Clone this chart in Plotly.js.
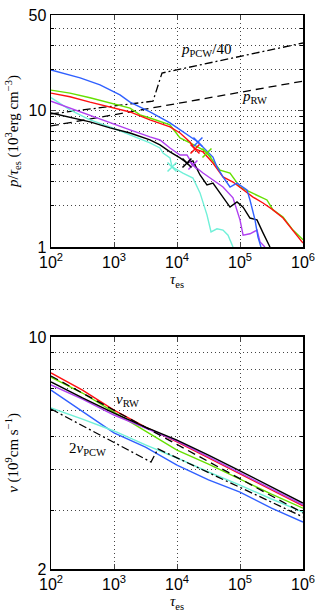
<!DOCTYPE html>
<html>
<head>
<meta charset="utf-8">
<script src="https://cdn.plot.ly/plotly-3.0.1.min.js"></script>
<style>
    html, body { margin: 0; padding: 0; background: #fff; }
    #chart { width: 321px; height: 616px; }
</style>
</head>
<body>
<div id="chart"></div>
<script>
// top panel: p / tau_es
const tauBlueP = [100, 290, 600, 1245, 1795, 3720, 7740, 11170, 16070, 21500, 37200, 43100, 53700, 69400, 89600, 129000, 144000, 173000, 193000, 215000];
const pBlue = [19.8, 17.3, 15.4, 13.0, 11.5, 9.75, 8.1, 7.2, 6.4, 5.88, 4.56, 3.86, 3.26, 2.75, 2.94, 2.62, 2.21, 1.58, 1.18, 1.0];

const tauGreenP = [100, 200, 416, 865, 1795, 2590, 3720, 7740, 11170, 16070, 25900, 29900, 48200, 69400, 100000, 144000, 186000, 268000, 334000, 482000, 693000, 1000000];
const pGreen = [14.1, 13.4, 12.4, 11.3, 10.4, 9.27, 8.81, 7.83, 6.29, 5.78, 5.14, 4.88, 3.66, 3.48, 2.75, 2.53, 2.40, 2.21, 1.87, 1.66, 1.33, 1.13];

const tauRedP = [100, 200, 416, 865, 1795, 3720, 7740, 11170, 16070, 19300, 25900, 37200, 53700, 77400, 112000, 161000, 232000, 334000, 482000, 693000, 1000000];
const pRed = [13.4, 12.6, 11.5, 10.6, 9.75, 8.52, 7.57, 6.84, 5.88, 5.22, 4.97, 4.12, 3.26, 2.99, 2.62, 2.32, 2.10, 1.87, 1.63, 1.33, 1.07];

const tauPurpleP = [100, 200, 416, 865, 1795, 3720, 5370, 7740, 11170, 14400, 17900, 25900, 37200, 53700, 77400, 100000, 112000, 144000, 186000, 208000, 249000];
const pPurple = [11.7, 10.4, 9.12, 8.1, 7.2, 6.4, 6.08, 5.31, 4.72, 4.72, 3.99, 3.48, 3.10, 2.75, 2.29, 1.58, 1.22, 1.25, 1.33, 1.09, 1.0];

const tauCyanP = [100, 200, 416, 865, 1795, 3720, 5370, 6000, 7740, 8340, 12400, 17900, 23200, 29900, 34700, 43100, 53700, 64600, 77400];
const pCyan = [12.4, 10.1, 8.52, 7.57, 6.62, 5.78, 5.31, 4.88, 4.49, 3.86, 3.48, 3.20, 2.49, 1.72, 1.29, 1.36, 1.33, 1.22, 1.0];

const tauBlackP = [100, 200, 416, 865, 1795, 3720, 5370, 7740, 11170, 14400, 17900, 23200, 29900, 37200, 53700, 69400, 89600, 112000, 144000, 186000, 232000, 299000];
const pBlack = [9.59, 8.96, 8.24, 7.45, 6.84, 6.08, 5.59, 4.97, 4.49, 4.12, 4.27, 3.37, 2.85, 2.94, 2.32, 1.96, 2.14, 1.96, 1.63, 1.58, 1.27, 1.0];

// crosses: blue, red, green, purple, black, cyan
const markTau = [21500, 19300, 29900, 17900, 14400, 8340];
const markP = [5.88, 5.22, 4.88, 3.99, 4.12, 3.86];

const tauRW = [100, 1000000];
const pRW = [7.7, 16.4];
const tauPCW = [100, 4160, 5780, 1000000];
const pPCW40 = [9.43, 11.7, 18.8, 31.2];

// bottom panel: v
const tauV = [100, 316, 1000, 3162, 10000, 31620, 100000, 316200, 1000000];
const vRed = [7.79, 6.92, 6.02, 5.35, 4.83, 4.32, 3.86, 3.46, 3.10];
const vGreen = [7.57, 6.78, 5.94, 5.21, 4.56, 4.14, 3.73, 3.36, 3.05];
const vPurple = [7.17, 6.50, 5.82, 5.32, 4.86, 4.35, 3.89, 3.48, 3.12];
const vBlack = [7.32, 6.55, 5.90, 5.35, 4.89, 4.41, 3.95, 3.53, 3.16];
const vBlue = [6.92, 5.98, 5.14, 4.66, 4.11, 3.71, 3.41, 3.05, 2.77];
const vCyan = [6.11, 5.66, 5.21, 4.73, 4.32, 3.92, 3.58, 3.25, 2.97];

const vRW = [7.63, 2.95];
const tauPCWv = [100, 3860, 4990, 1000000];
const v2PCW = [6.07, 4.20, 4.60, 2.87];

// tick values
const xTicks = [100, 1000, 10000, 100000, 1000000];
const xText = ['10<sup>2</sup>', '10<sup>3</sup>', '10<sup>4</sup>', '10<sup>5</sup>', '10<sup>6</sup>'];
const pTicks = [1, 10, 50];
const pMinor = [2, 3, 4, 5, 6, 7, 8, 9, 20, 30, 40];
const vTicks = [2, 10];
const vMinor = [3, 4, 5, 6, 7, 8, 9];

const COLORS = {
    blue: '#3060ff',
    green: '#66e000',
    red: '#ff1010',
    purple: '#b040f0',
    cyan: '#70f0d8',
    black: '#000000'
};
const markColors = [COLORS.blue, COLORS.red, COLORS.green, COLORS.purple, COLORS.black, COLORS.cyan];

const SERIF = 'Liberation Serif, DejaVu Serif, serif';
const SANS = 'Liberation Sans, Arial, sans-serif';
const GRID = { gridcolor: '#444', griddash: '1px,3px', gridwidth: 1 };

function line(x, y, color, axes, dash) {
    return {
        x, y,
        xaxis: axes[0],
        yaxis: axes[1],
        mode: 'lines',
        type: 'scatter',
        line: { color, width: dash ? 1.3 : 1.4, dash: dash || 'solid' },
        hoverinfo: 'skip'
    };
}

const AX_TOP = ['x', 'y'];
const AX_BOT = ['x2', 'y2'];

const data = [
    line(tauRW, pRW, '#000', AX_TOP, '8px,5px'),
    line(tauPCW, pPCW40, '#000', AX_TOP, '8px,3px,2px,3px'),
    line(tauCyanP, pCyan, COLORS.cyan, AX_TOP),
    line(tauPurpleP, pPurple, COLORS.purple, AX_TOP),
    line(tauBlackP, pBlack, COLORS.black, AX_TOP),
    line(tauGreenP, pGreen, COLORS.green, AX_TOP),
    line(tauRedP, pRed, COLORS.red, AX_TOP),
    line(tauBlueP, pBlue, COLORS.blue, AX_TOP),
    {
        x: markTau, y: markP, xaxis: 'x', yaxis: 'y',
        mode: 'markers', type: 'scatter', hoverinfo: 'skip',
        marker: { symbol: 'x-thin', size: 9, line: { width: 1.5, color: markColors } }
    },
    line(tauV, vBlue, COLORS.blue, AX_BOT),
    line(tauV, vCyan, COLORS.cyan, AX_BOT),
    line(tauV, vGreen, COLORS.green, AX_BOT),
    line(tauV, vRed, COLORS.red, AX_BOT),
    line(tauV, vPurple, COLORS.purple, AX_BOT),
    line(tauV, vBlack, COLORS.black, AX_BOT),
    line(tauRW, vRW, '#000', AX_BOT, '8px,5px'),
    line(tauPCWv, v2PCW, '#000', AX_BOT, '8px,3px,2px,3px')
];

function xAxis(anchor) {
    return Object.assign({
        type: 'log',
        range: [2, 6],
        anchor,
        tickmode: 'array',
        tickvals: xTicks,
        ticktext: xText,
        ticks: 'inside',
        ticklen: 5,
        showline: true,
        mirror: 'ticks',
        linecolor: '#000',
        linewidth: 1.5,
        showgrid: true,
        zeroline: false,
        tickfont: { family: SANS, size: 16, color: '#000' },
        title: { text: '<i>τ</i><sub>es</sub>', font: { family: SERIF, size: 15, color: '#000' }, standoff: 4 }
    }, GRID);
}

function yAxis(anchor, domain, range, vals, minorVals, title) {
    return Object.assign({
        type: 'log',
        range,
        domain,
        anchor,
        tickmode: 'array',
        tickvals: vals,
        ticktext: vals.map(String),
        ticks: 'inside',
        ticklen: 5,
        minor: Object.assign({ tickmode: 'array', tickvals: minorVals, ticks: 'inside', ticklen: 3, tickcolor: '#000', showgrid: true }, GRID),
        showline: true,
        mirror: 'ticks',
        linecolor: '#000',
        linewidth: 1.5,
        showgrid: true,
        zeroline: false,
        tickfont: { family: SANS, size: 16, color: '#000' },
        title: { text: title, font: { family: SERIF, size: 15, color: '#000' }, standoff: 6 }
    }, GRID);
}

const layout = {
    width: 321,
    height: 616,
    margin: { l: 51, r: 18, t: 15, b: 47 },
    paper_bgcolor: '#fff',
    plot_bgcolor: '#fff',
    showlegend: false,
    xaxis: xAxis('y'),
    yaxis: yAxis('x', [0.5812, 1], [0, Math.log10(50)], pTicks, pMinor,
        '<i>p</i>/<i>τ</i><sub>es</sub> (10<sup>3</sup>erg cm<sup>−3</sup>)'),
    xaxis2: xAxis('y2'),
    yaxis2: yAxis('x2', [0, 0.4188], [Math.log10(2), 1], vTicks, vMinor,
        '<i>v</i> (10<sup>9</sup>cm s<sup>−1</sup>)'),
    annotations: [
        { xref: 'x', yref: 'y', x: Math.log10(28800), y: Math.log10(27.7), text: '<i>p</i><sub>PCW</sub>/40', showarrow: false },
        { xref: 'x', yref: 'y', x: Math.log10(167000), y: Math.log10(12.6), text: '<i>p</i><sub>RW</sub>', showarrow: false },
        { xref: 'x2', yref: 'y2', x: Math.log10(1610), y: Math.log10(6.46), text: '<i>v</i><sub>RW</sub>', showarrow: false },
        { xref: 'x2', yref: 'y2', x: Math.log10(386), y: Math.log10(4.6), text: '2<i>v</i><sub>PCW</sub>', showarrow: false }
    ].map(a => Object.assign(a, { font: { family: SERIF, size: 15, color: '#000' } }))
};

Plotly.newPlot('chart', data, layout, {
    displayModeBar: false,
    staticPlot: true
});
</script>
</body>
</html>
